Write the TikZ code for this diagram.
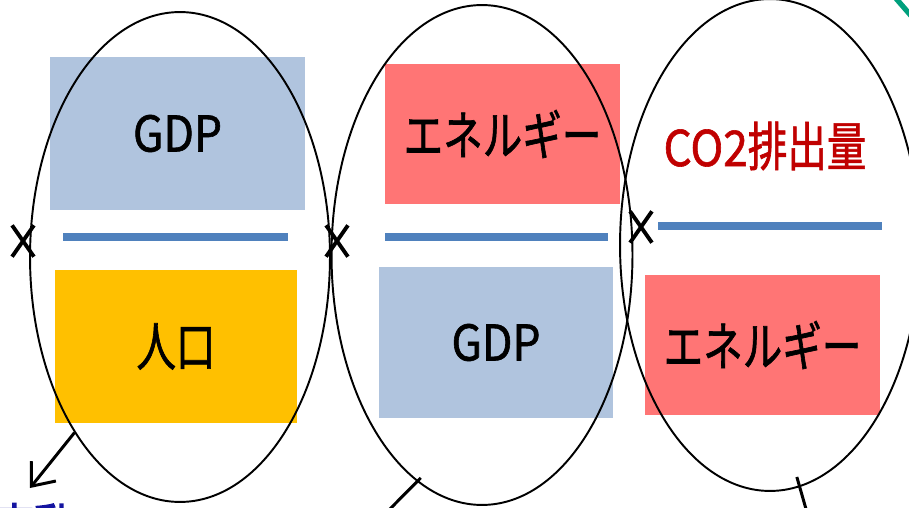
\documentclass[tikz,border=0pt]{standalone}
\usepackage{fontspec}
\setmainfont{Noto Sans CJK JP}[FakeStretch=0.9, FakeBold=1.2]
\newfontfamily\jpnarrow{Noto Sans CJK JP}[FakeStretch=0.75, FakeBold=1.2]
\newfontfamily\jpnote{Noto Sans CJK JP}[FakeStretch=0.75, FakeBold=2.5]
\definecolor{gdpblue}{RGB}{176,196,222}
\definecolor{energyred}{RGB}{255,117,117}
\definecolor{popyellow}{RGB}{255,192,0}
\definecolor{barblue}{RGB}{79,129,189}
\definecolor{co2red}{RGB}{192,0,0}
\definecolor{notenavy}{RGB}{20,20,160}
\definecolor{swooshgreen}{RGB}{0,160,125}
\usetikzlibrary{shapes.geometric, shapes.misc, arrows.meta}
\tikzset{
  factor/.style={rectangle, inner sep=0pt, text=black,
    font=\fontsize{28}{32}\selectfont, align=center},
  ring/.style={ellipse, draw=black, line width=1.1pt, inner sep=0pt},
  bar/.style={line width=4pt, color=barblue},
  times/.style={cross out, draw=black, line width=2.2pt, inner sep=0pt,
    minimum width=0.36cm, minimum height=0.55cm},
  pointer/.style={line width=1.7pt, color=black},
}

\begin{document}
\begin{tikzpicture}[x=0.02cm, y=-0.02cm]
  \useasboundingbox (0,0) rectangle (909,507);
  \clip (0,0) rectangle (909,507);
  % first ratio: GDP / population
  \node[factor, fill=gdpblue, minimum width=5.10cm, minimum height=3.06cm] (gdpa) at (177.5,133.5) {GDP};
  \node[factor, fill=popyellow, minimum width=4.84cm, minimum height=3.06cm] (pop) at (176,346.5) {\jpnarrow\fontsize{30}{32}\selectfont 人口};
  \draw[bar] (63,237) -- (288,237);
  % second ratio: energy / GDP
  \node[factor, fill=energyred, minimum width=4.70cm, minimum height=2.80cm] (enea) at (502.5,134) {\jpnarrow\fontsize{30}{32}\selectfont エネルギー};
  \node[factor, fill=gdpblue, minimum width=4.68cm, minimum height=3.02cm] (gdpb) at (496,342.5) {GDP};
  \draw[bar] (385,237) -- (608,237);
  % third ratio: CO2 / energy
  \node[factor, text=co2red] (co2) at (765,146) {CO2{\jpnarrow\fontsize{30}{32}\selectfont 排出量}};
  \node[factor, fill=energyred, minimum width=4.70cm, minimum height=2.80cm] (eneb) at (762.5,345) {\jpnarrow\fontsize{30}{32}\selectfont エネルギー};
  \draw[bar] (658,226) -- (882,226);
  % rings and multiplication signs
  \node[ring, minimum width=6.00cm, minimum height=9.80cm] (ra) at (180,257) {};
  \node[ring, minimum width=6.02cm, minimum height=10.0cm] (rb) at (482,255) {};
  \node[ring, minimum width=6.00cm, minimum height=9.84cm] (rc) at (770,245) {};
  \node[times] (xa) at (23,241) {};
  \node[times] (xb) at (337,241) {};
  \node[times] (xc) at (641,227) {};
  % pointers leaving the picture
  \coordinate (pa) at (30,488);
  \coordinate (pb) at (383,516);
  \coordinate (pc) at (808,516);
  \draw[pointer, -{Straight Barb[length=11pt, width=18pt]}] (ra.239) -- (pa);
  \draw[pointer, shorten <=-3pt] (rb.254) -- (pb);
  \draw[pointer, shorten <=-6pt] (rc.277) -- (pc);
  \node[anchor=north east, inner sep=0pt, text=notenavy, font=\jpnote\fontsize{30}{32}\selectfont] (note) at (74,503) {変動};
  \draw[swooshgreen, line width=3pt] (893,-5) -- (913,18);
\end{tikzpicture}
\end{document}
